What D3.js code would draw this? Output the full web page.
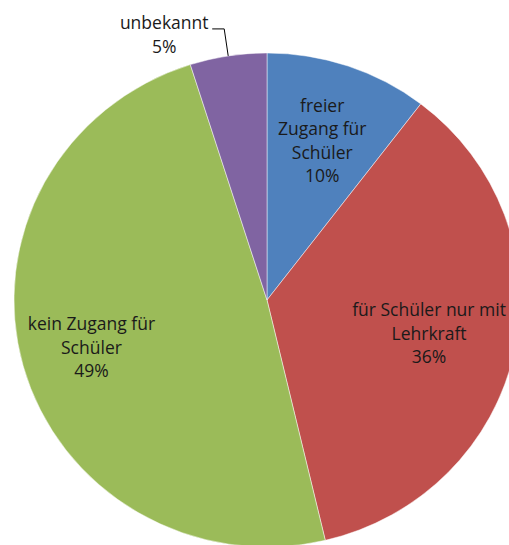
<!DOCTYPE html>
<html>
<head>
<meta charset="utf-8">
<script src="https://cdn.jsdelivr.net/npm/d3@7"></script>
<style>
  html, body { margin: 0; padding: 0; background: #fff; }
  svg { display: block; }
</style>
</head>
<body>
<div id="chart"></div>
<script>
// slice data, clockwise from 12 o'clock
const categories = ['freier Zugang für Schüler', 'für Schüler nur mit Lehrkraft', 'kein Zugang für Schüler', 'unbekannt'];
const values = [10.4, 35.9, 48.8, 4.9];
// how each label is broken into lines
const labelLines = [
  ['freier', 'Zugang für', 'Schüler'],
  ['für Schüler nur mit', 'Lehrkraft'],
  ['kein Zugang für', 'Schüler'],
  ['unbekannt']
];
const colors = ['#4f81bd', '#c0504d', '#9bbb59', '#8064a2'];

const W = 509, H = 545;
const cx = 267, cy = 300;
const r = 247;
const sx = 253 / 247;   // reference pie is slightly wider than tall
const fontSize = 17.5;
const lineH = 23.5;
// label distance from centre, as a share of the radius, per slice
const labelR = [0.68, 0.655, 0.72];

const svg = d3.select('#chart').append('svg')
  .attr('width', W)
  .attr('height', H);

const data = categories.map((c, i) => ({ name: c, value: values[i], lines: labelLines[i], color: colors[i] }));

const pie = d3.pie()
  .value(d => d.value)
  .sort(null);

const arcs = pie(data);

const arc = d3.arc()
  .innerRadius(0)
  .outerRadius(r);

const g = svg.append('g')
  .attr('transform', `translate(${cx},${cy}) scale(${sx},1)`);

g.selectAll('path.slice')
  .data(arcs)
  .enter()
  .append('path')
  .attr('class', 'slice')
  .attr('d', arc)
  .attr('fill', d => d.data.color)
  .attr('stroke', 'rgba(255,255,255,0.6)')
  .attr('stroke-width', 0.8)
  .attr('vector-effect', 'non-scaling-stroke');

const pct = d => Math.round(d.value) + '%';

const labels = svg.append('g')
  .style('font-family', '"Open Sans", sans-serif')
  .style('font-size', fontSize + 'px')
  .attr('fill', '#1a1a1a')
  .attr('text-anchor', 'middle');

// labels inside the big slices
arcs.forEach((d, k) => {
  if (d.data.value <= 8) return;
  const lr = r * labelR[k];
  const [lx, ly] = d3.arc().innerRadius(lr).outerRadius(lr).centroid(d);
  const px = cx + lx * sx, py = cy + ly;
  const lines = d.data.lines.concat([pct(d.data)]);
  const top = py - (lines.length - 1) * lineH / 2;
  const t = labels.append('text');
  lines.forEach((s, i) => {
    t.append('tspan')
      .attr('x', px)
      .attr('y', top + i * lineH)
      .attr('dy', '0.35em')
      .text(s);
  });
});

// small slice: label outside with a leader line
arcs.filter(d => d.data.value <= 8).forEach(d => {
  const a = (d.startAngle + d.endAngle) / 2;
  const ex = cx + Math.sin(a) * r * sx;
  const ey = cy - Math.cos(a) * r;
  svg.append('path')
    .attr('d', `M${ex - 16},${ey - 27}H${ex - 4}L${ex},${ey}`)
    .attr('fill', 'none')
    .attr('stroke', '#000')
    .attr('stroke-width', 1);
  const t = labels.append('text');
  [d.data.lines[0], pct(d.data)].forEach((s, i) => {
    t.append('tspan')
      .attr('x', ex - 64)
      .attr('y', ey - 33 + i * lineH)
      .attr('dy', '0.35em')
      .text(s);
  });
});
</script>
</body>
</html>
